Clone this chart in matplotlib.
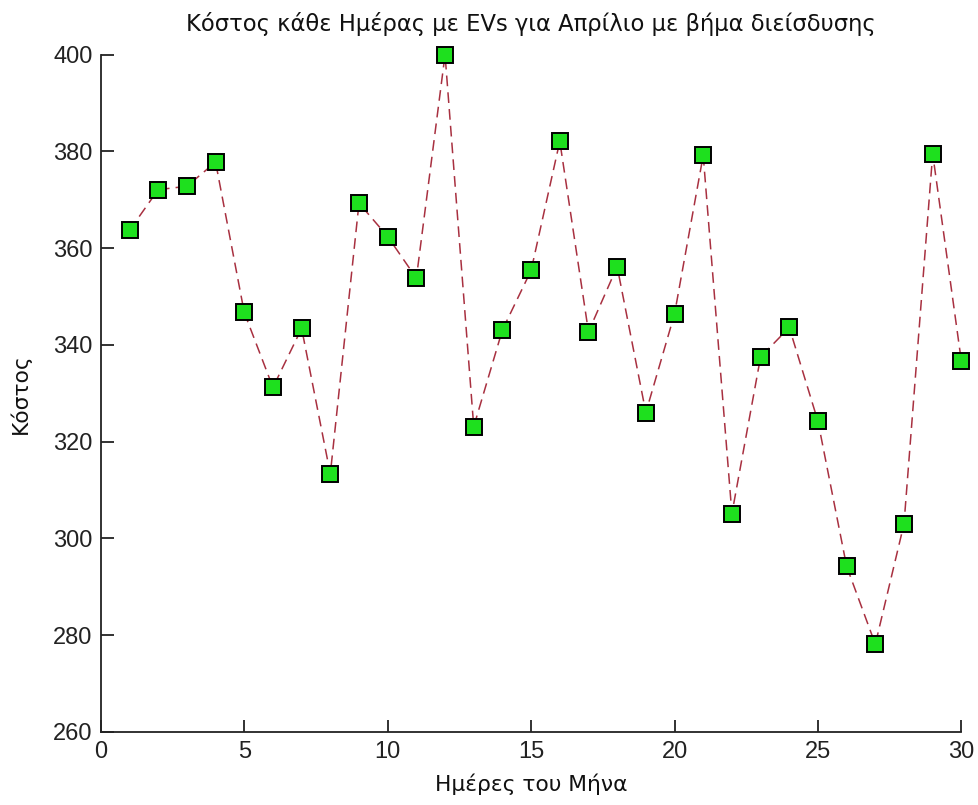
import matplotlib
matplotlib.use("Agg")
import matplotlib.pyplot as plt

plt.rcParams['font.family'] = ['Liberation Sans', 'DejaVu Sans']

days = list(range(1, 31))
cost = [363.7, 372.1, 372.8, 377.8, 346.7, 331.2, 343.4, 313.3, 369.3, 362.4,
        353.8, 400.0, 323.1, 343.1, 355.4, 382.1, 342.7, 356.2, 326.0, 346.4,
        379.2, 305.1, 337.5, 343.6, 324.2, 294.2, 278.1, 303.0, 379.5, 336.6]

title = "Κόστος κάθε Ημέρας με EVs για Απρίλιο με βήμα διείσδυσης"
xlabel = "Ημέρες του Μήνα"
ylabel = "Κόστος"
xticks = [0, 5, 10, 15, 20, 25, 30]
yticks = [260, 280, 300, 320, 340, 360, 380, 400]

fig = plt.figure(figsize=(9.79, 8.05), dpi=100)
ax = fig.add_axes([0.103, 0.091, 0.879, 0.841])

ax.plot(days, cost, linestyle=(0, (7, 4)), color='#a83040', linewidth=1.1,
        marker='s', markersize=11.5, markerfacecolor='#1ee01e',
        markeredgecolor='black', markeredgewidth=1.4, clip_on=False, zorder=3)

ax.set_xlim(0, 30)
ax.set_ylim(260, 400)
ax.set_xticks(xticks)
ax.set_yticks(yticks)
ax.spines['top'].set_visible(False)
ax.spines['right'].set_visible(False)
for s in ('left', 'bottom'):
    ax.spines[s].set_linewidth(1.3)
    ax.spines[s].set_color('#222222')
ax.tick_params(direction='in', length=9, width=1.3, labelsize=17, colors='#222222', pad=6)
ax.tick_params(axis='x', pad=7)

lab_font = ['DejaVu Sans']
ax.set_title(title, fontsize=16.3, pad=17, color='#111111', family=lab_font)
ax.set_xlabel(xlabel, fontsize=15.7, labelpad=7, color='#111111', family=lab_font)
ax.set_ylabel(ylabel, fontsize=15.7, labelpad=16, color='#111111', family=lab_font)

fig.savefig("out.png", dpi=100)
